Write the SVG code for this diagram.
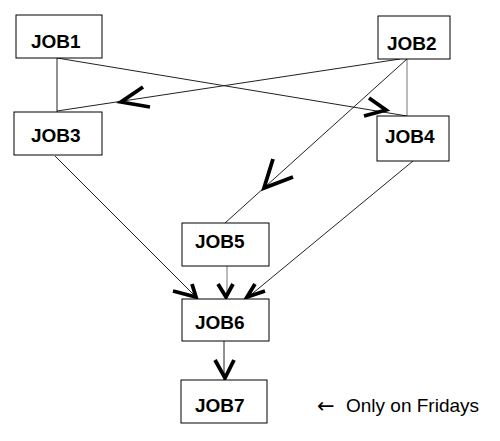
<svg xmlns="http://www.w3.org/2000/svg" width="500" height="441" viewBox="0 0 500 441">
<style>
.box{fill:#fff;stroke:#000;stroke-width:1}
.lbl{font-family:"Liberation Sans",Arial,sans-serif;font-weight:bold;font-size:19px;fill:#000}
.ln{stroke:#222;stroke-width:1;fill:none}
.gl{stroke:#777;stroke-width:1;fill:none}
.ah{stroke:#000;stroke-width:3.8;fill:none;stroke-linejoin:miter;stroke-linecap:butt}
.note{font-family:"Liberation Sans",Arial,sans-serif;font-size:19px;fill:#000}
.arr{font-family:"DejaVu Sans",sans-serif;font-size:21px;fill:#000}
</style>
<rect width="500" height="441" fill="#fff"/>
<g id="connectors">
<line class="ln" x1="57" y1="58" x2="57" y2="112"/>
<line class="ln" x1="57" y1="58" x2="407" y2="116"/>
<line class="ln" x1="400" y1="59" x2="57" y2="111"/>
<line class="gl" x1="407" y1="59" x2="407" y2="116"/>
<line class="ln" x1="407" y1="59" x2="225" y2="223"/>
<line class="ln" x1="55" y1="156" x2="197" y2="298"/>
<line class="gl" x1="227" y1="266" x2="227" y2="298"/>
<line class="ln" x1="413" y1="161" x2="247" y2="298"/>
<line class="ln" x1="224" y1="341" x2="224" y2="380"/>
<polyline class="ah" points="143,87 121,102 150,107"/>
<polyline class="ah" points="369,98 386,110 364,116"/>
<polyline class="ah" points="273,159 264,188 293,177"/>
<polyline class="ah" points="192,284 196,297 173,291"/>
<polyline class="ah" points="218,284 226,297 233,284"/>
<polyline class="ah" points="255,284 247,297 265,291"/>
<polyline class="ah" points="215,360 225,378 234,360"/>
</g>
<g id="job1"><rect class="box" x="16" y="15" width="86" height="43"/><text class="lbl" x="31" y="48">JOB1</text></g>
<g id="job2"><rect class="box" x="378" y="16" width="72" height="43"/><text class="lbl" x="387" y="50">JOB2</text></g>
<g id="job3"><rect class="box" x="14" y="112" width="88" height="43"/><text class="lbl" x="31" y="142">JOB3</text></g>
<g id="job4"><rect class="box" x="377" y="116" width="72" height="45"/><text class="lbl" x="385" y="143">JOB4</text></g>
<g id="job5"><rect class="box" x="182" y="223" width="87" height="43"/><text class="lbl" x="195" y="248">JOB5</text></g>
<g id="job6"><rect class="box" x="182" y="299" width="87" height="42"/><text class="lbl" x="195" y="329">JOB6</text></g>
<g id="job7"><rect class="box" x="181" y="380" width="86" height="43"/><text class="lbl" x="195" y="412">JOB7</text></g>
<g id="note">
<text class="arr" x="317" y="413">←</text>
<text class="note" x="346" y="412">Only on Fridays</text>
</g>
</svg>
